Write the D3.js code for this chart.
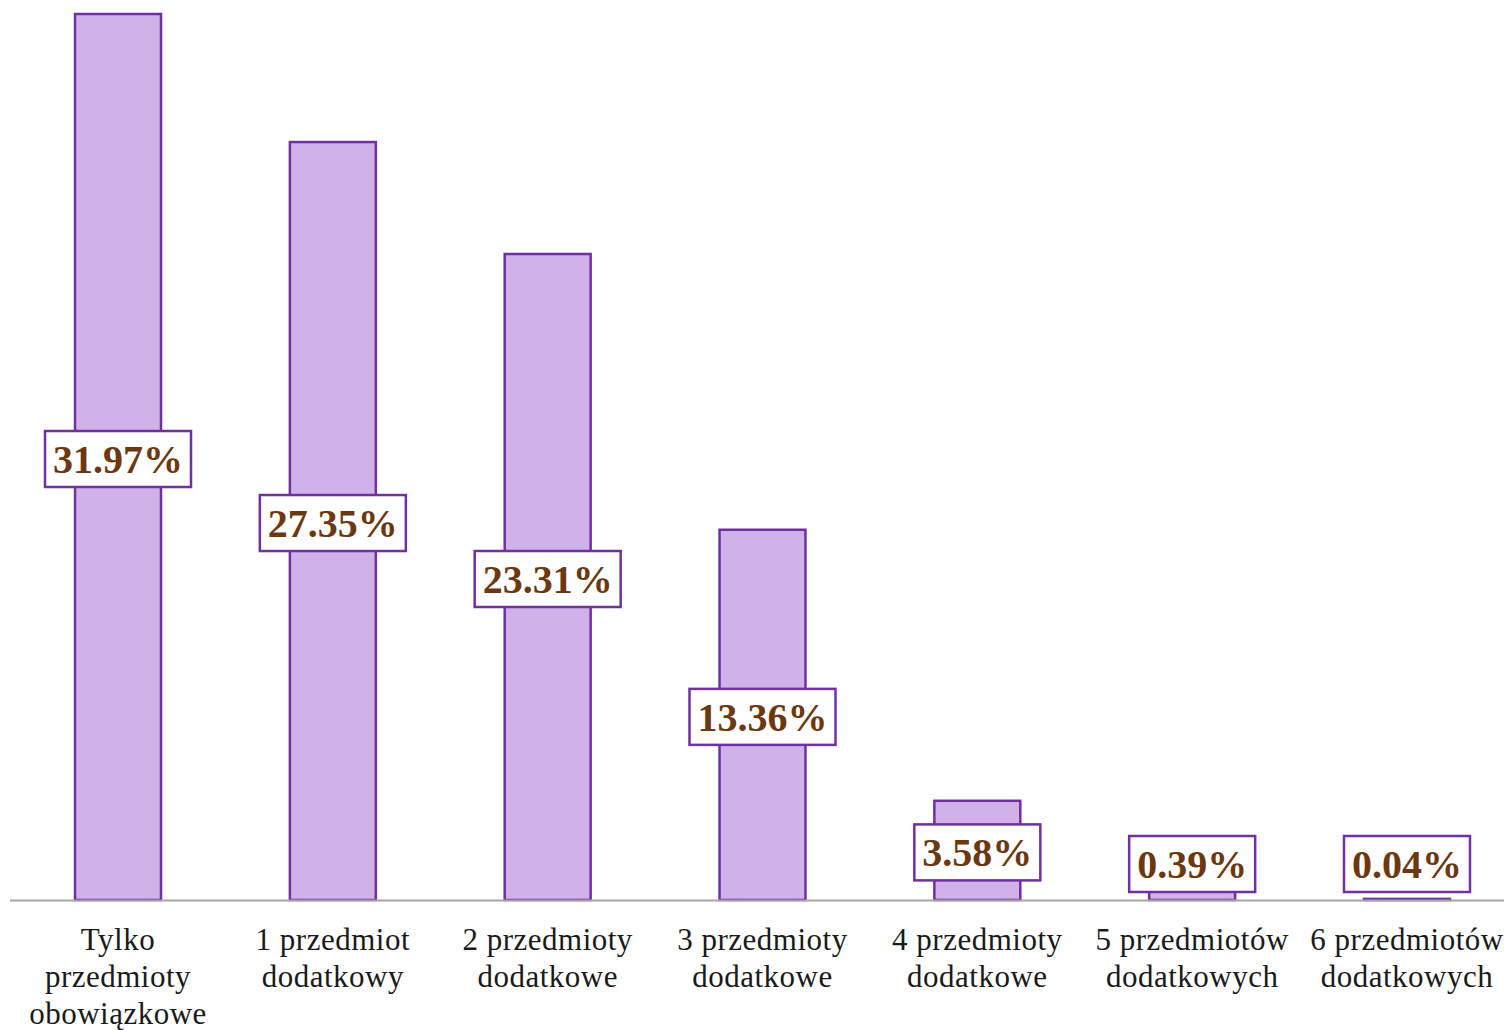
<!DOCTYPE html>
<html>
<head>
<meta charset="utf-8">
<script src="https://cdn.jsdelivr.net/npm/d3@7"></script>
<style>
  body { margin: 0; background: #fff; }
</style>
</head>
<body>
<div id="chart"></div>
<script>
const categories = [
  ['Tylko', 'przedmioty', 'obowiązkowe'],
  ['1 przedmiot', 'dodatkowy'],
  ['2 przedmioty', 'dodatkowe'],
  ['3 przedmioty', 'dodatkowe'],
  ['4 przedmioty', 'dodatkowe'],
  ['5 przedmiotów', 'dodatkowych'],
  ['6 przedmiotów', 'dodatkowych']
];
const values = [31.97, 27.35, 23.31, 13.36, 3.58, 0.39, 0.04];
const valueLabels = ['31.97%', '27.35%', '23.31%', '13.36%', '3.58%', '0.39%', '0.04%'];

const width = 1504;
const height = 1030;
const baseY = 900;

const svg = d3.select('#chart').append('svg')
  .attr('width', width)
  .attr('height', height);

const x = d3.scaleBand()
  .domain(d3.range(values.length))
  .range([10.6, 1514.4])
  .paddingInner(0.6)
  .paddingOuter(0.3);

const y = d3.scaleLinear()
  .domain([0, 31.97])
  .range([baseY, 14]);

// bars
svg.append('g')
  .selectAll('rect')
  .data(values)
  .enter().append('rect')
  .attr('x', (d, i) => x(i))
  .attr('y', d => y(d))
  .attr('width', x.bandwidth())
  .attr('height', d => baseY - y(d))
  .attr('fill', '#d0b2e9')
  .attr('stroke', '#7030a0')
  .attr('stroke-width', 2.5);

// baseline
svg.append('line')
  .attr('x1', 10)
  .attr('x2', width)
  .attr('y1', baseY + 0.5)
  .attr('y2', baseY + 0.5)
  .attr('stroke', '#a6a6a6')
  .attr('stroke-width', 2);

// value labels in boxes
const boxH = 56;
const lab = svg.append('g')
  .selectAll('g')
  .data(values)
  .enter().append('g')
  .attr('transform', (d, i) => {
    const cx = x(i) + x.bandwidth() / 2;
    const cy = Math.min((y(d) + baseY) / 2 + 2, baseY - 8 - boxH / 2);
    return `translate(${cx},${cy})`;
  });

lab.append('rect')
  .attr('y', -boxH / 2)
  .attr('height', boxH)
  .attr('fill', '#fff')
  .attr('stroke', '#7030a0')
  .attr('stroke-width', 2.5);

lab.append('text')
  .attr('text-anchor', 'middle')
  .attr('dy', '0.35em')
  .attr('font-family', '"Liberation Serif", "Times New Roman", serif')
  .attr('font-weight', 'bold')
  .attr('font-size', 40)
  .attr('fill', '#6b3810')
  .text((d, i) => valueLabels[i]);

lab.each(function () {
  const g = d3.select(this);
  const w = g.select('text').node().getComputedTextLength();
  g.select('rect')
    .attr('x', -(w / 2 + 8))
    .attr('width', w + 16);
});

// category labels
const cat = svg.append('g')
  .selectAll('text')
  .data(categories)
  .enter().append('text')
  .attr('text-anchor', 'middle')
  .attr('font-family', '"Liberation Serif", "Times New Roman", serif')
  .attr('font-size', 31)
  .attr('letter-spacing', 0.5)
  .attr('fill', '#1a1a1a')
  .attr('x', (d, i) => x(i) + x.bandwidth() / 2)
  .attr('y', 950);

cat.selectAll('tspan')
  .data(d => d)
  .enter().append('tspan')
  .attr('x', function () { return d3.select(this.parentNode).attr('x'); })
  .attr('dy', (d, j) => j === 0 ? 0 : 37)
  .text(d => d);
</script>
</body>
</html>
